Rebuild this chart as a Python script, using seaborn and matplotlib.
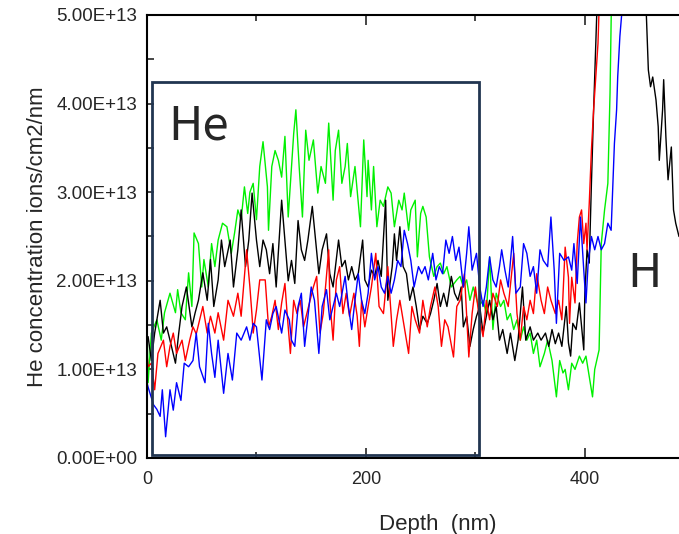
import numpy as np
import matplotlib
matplotlib.use("Agg")
import matplotlib.pyplot as plt
from matplotlib.patches import Rectangle
from matplotlib.ticker import FuncFormatter, MultipleLocator
import seaborn as sns

# Depth (nm) / He concentration (x1e13 ions/cm2/nm)
green_depth = [0, 1, 4, 9, 13, 16, 21, 26, 28, 31, 35, 38, 41, 43, 47, 50, 52, 56, 59, 62,
               65, 69, 73, 77, 80, 83, 86, 89, 92, 94, 97, 100, 103, 106, 110, 111, 114, 117, 120, 123,
               126, 129, 134, 136, 139, 142, 145, 148, 152, 156, 159, 163, 166, 170, 172, 175, 178, 181, 183, 186,
               190, 195, 198, 201, 202, 205, 207, 210, 213, 216, 220, 223, 226, 230, 233, 235, 239, 241, 245, 247,
               250, 252, 255, 258, 262, 265, 268, 271, 274, 278, 283, 286, 289, 292, 295, 298, 303, 307, 310, 313,
               316, 319, 323, 326, 329, 332, 335, 338, 341, 344, 347, 350, 353, 356, 359, 363, 366, 370, 374, 377,
               380, 382, 385, 388, 391, 395, 398, 401, 404, 407, 409, 413, 415, 418, 421, 423, 424, 428, 486]
green_conc = [1.6, 0.85, 1.41, 1.56, 1.33, 1.64, 1.86, 1.64, 1.9, 1.64, 1.56, 2.09, 1.71, 2.54, 2.42, 1.93, 2.24, 1.93, 2.42, 2.16,
              2.46, 2.65, 2.61, 2.31, 2.54, 2.8, 2.69, 3.06, 2.76, 3.0, 3.1, 2.69, 3.29, 3.57, 3.06, 2.57, 3.29, 3.47, 3.36, 3.17,
              3.63, 2.72, 3.66, 3.93, 3.29, 2.72, 3.7, 3.36, 3.59, 2.99, 3.29, 3.1, 3.78, 2.91, 3.47, 3.7, 3.1, 3.29, 3.55, 2.95,
              3.29, 2.61, 3.59, 2.95, 3.36, 2.8, 3.29, 2.61, 2.91, 2.84, 3.06, 2.99, 2.61, 2.91, 2.8, 2.99, 2.57, 2.8, 2.91, 2.27,
              2.76, 2.84, 2.72, 2.27, 2.05, 2.16, 2.2, 2.08, 2.16, 1.93, 2.01, 2.05, 1.93, 2.01, 1.78, 1.93, 1.71, 1.78, 1.63, 2.27,
              1.45, 1.86, 1.71, 1.78, 1.56, 1.63, 1.45, 1.56, 1.33, 1.48, 1.33, 1.41, 1.18, 1.33, 1.03, 1.18, 1.33, 1.1, 0.69, 1.1,
              0.96, 1.0, 0.77, 1.07, 1.0, 1.15, 1.07, 1.15, 0.92, 0.69, 1.0, 1.22, 2.42, 2.8, 3.1, 4.12, 4.98, 7.5, 9.0]

black_depth = [1, 4, 7, 12, 15, 18, 21, 26, 29, 32, 36, 41, 44, 47, 51, 55, 58, 61, 65, 68,
               71, 76, 79, 83, 86, 90, 93, 96, 100, 103, 106, 109, 112, 115, 118, 123, 126, 129, 132, 135,
               138, 141, 144, 147, 151, 154, 157, 160, 164, 167, 170, 175, 178, 181, 184, 187, 190, 193, 197, 199,
               202, 205, 208, 211, 214, 218, 220, 224, 226, 228, 231, 234, 237, 240, 243, 246, 249, 252, 256, 259,
               262, 265, 268, 271, 274, 278, 281, 284, 287, 289, 292, 295, 298, 301, 304, 307, 310, 313, 316, 319,
               322, 325, 329, 332, 336, 339, 343, 346, 350, 353, 357, 360, 364, 367, 370, 373, 376, 379, 383, 385,
               387, 389, 392, 395, 397, 399, 400, 402, 404, 406, 408, 410, 411, 415, 440, 452, 456, 458, 460, 462,
               465, 467, 468, 471, 472, 474, 476, 479, 481, 483, 486]
black_conc = [1.37, 1.1, 1.41, 1.78, 1.41, 1.48, 1.33, 1.07, 1.41, 1.71, 1.93, 1.48, 1.64, 1.78, 2.09, 1.78, 2.24, 1.71, 2.01, 2.46,
              2.16, 2.46, 1.93, 2.35, 2.8, 2.16, 2.46, 2.99, 2.46, 2.16, 2.46, 2.35, 2.08, 2.42, 1.93, 2.91, 2.46, 2.0, 2.23, 1.97,
              2.68, 2.35, 2.23, 2.46, 2.84, 2.46, 2.08, 2.35, 2.53, 2.08, 1.93, 2.46, 2.16, 2.23, 2.01, 2.16, 2.01, 2.08, 2.46, 2.01,
              1.93, 2.12, 2.05, 2.23, 2.05, 2.91, 1.78, 2.16, 2.53, 2.23, 2.61, 2.16, 2.08, 1.78, 1.93, 1.71, 1.45, 1.6, 1.52, 1.63,
              1.78, 1.97, 1.71, 1.86, 1.71, 2.05, 1.86, 1.78, 1.93, 1.48, 1.6, 1.26, 1.45, 1.6, 1.71, 1.41, 1.6, 1.78, 1.56, 1.71,
              1.33, 1.45, 1.18, 1.41, 1.1, 1.33, 1.93, 1.33, 1.48, 1.33, 1.41, 1.33, 1.41, 1.26, 1.45, 1.29, 1.41, 1.26, 1.71, 1.3,
              1.15, 1.52, 1.45, 1.75, 1.48, 1.22, 1.86, 2.35, 2.2, 3.1, 3.93, 4.68, 5.06, 7.5, 9.0, 7.0, 5.06, 4.38, 4.19, 4.3,
              4.04, 3.74, 3.36, 3.93, 4.27, 3.63, 3.14, 3.51, 2.8, 2.65, 2.5]

red_depth = [0, 1, 4, 7, 10, 15, 18, 21, 24, 27, 32, 35, 39, 42, 45, 51, 55, 58, 62, 65,
             70, 74, 79, 83, 86, 91, 94, 96, 97, 100, 103, 108, 111, 114, 117, 120, 123, 126, 128, 131,
             134, 137, 140, 143, 146, 149, 152, 155, 158, 161, 166, 167, 170, 173, 176, 179, 182, 185, 189, 192,
             194, 196, 199, 202, 205, 209, 212, 216, 220, 225, 228, 231, 235, 239, 242, 245, 249, 252, 256, 259,
             263, 266, 269, 272, 275, 280, 283, 286, 290, 294, 297, 300, 303, 307, 310, 313, 316, 320, 323, 326,
             330, 335, 338, 341, 344, 347, 350, 353, 356, 360, 363, 366, 369, 373, 376, 379, 382, 385, 386, 388,
             391, 393, 395, 397, 399, 401, 402, 404, 406, 408, 410, 412, 413, 420, 470, 486]
red_conc = [1.18, 1.03, 1.07, 0.77, 1.18, 1.33, 1.03, 1.26, 1.41, 1.18, 1.33, 1.1, 1.33, 1.48, 1.4, 1.71, 1.41, 1.6, 1.41, 1.64,
            1.33, 1.78, 1.6, 1.86, 1.6, 2.35, 1.93, 1.6, 1.41, 1.67, 2.01, 2.01, 1.48, 1.6, 1.78, 1.45, 1.75, 1.97, 1.63, 1.18,
            1.78, 1.63, 1.78, 1.48, 1.63, 1.78, 1.93, 2.05, 1.41, 1.63, 2.35, 1.78, 1.33, 2.01, 2.16, 1.63, 1.86, 1.6, 1.86, 1.6,
            1.26, 1.78, 1.48, 1.71, 1.93, 2.31, 1.71, 1.63, 2.16, 1.26, 1.56, 1.78, 1.48, 1.18, 1.71, 1.56, 1.41, 1.78, 1.48, 1.71,
            1.93, 1.71, 1.26, 1.56, 1.48, 1.14, 1.71, 1.78, 2.08, 1.14, 1.63, 1.93, 1.63, 1.37, 1.78, 1.56, 1.86, 1.71, 2.01, 1.86,
            1.71, 2.31, 1.63, 1.33, 1.71, 1.56, 1.78, 1.63, 2.08, 1.78, 1.63, 1.93, 1.78, 1.63, 1.78, 1.56, 2.38, 2.04, 1.52, 2.04,
            1.75, 2.42, 2.72, 2.8, 2.42, 2.65, 2.35, 2.87, 3.48, 3.93, 4.3, 4.68, 5.06, 8.0, 9.0, 5.05]

blue_depth = [0, 1, 6, 9, 12, 14, 17, 21, 24, 27, 31, 34, 38, 42, 45, 48, 53, 56, 59, 62,
              65, 70, 74, 78, 82, 86, 91, 94, 97, 100, 105, 109, 112, 115, 118, 123, 126, 130, 132, 135,
              138, 141, 144, 147, 150, 153, 157, 160, 164, 167, 170, 173, 176, 181, 184, 187, 190, 193, 196, 199,
              202, 205, 208, 211, 214, 217, 220, 223, 226, 229, 232, 235, 238, 241, 244, 248, 251, 254, 257, 261,
              264, 267, 270, 273, 276, 279, 282, 285, 289, 292, 294, 297, 301, 304, 307, 310, 313, 316, 319, 322,
              324, 327, 330, 334, 337, 341, 344, 347, 350, 353, 356, 359, 362, 366, 369, 372, 374, 377, 381, 385,
              388, 390, 393, 396, 399, 401, 403, 406, 409, 412, 415, 418, 421, 424, 427, 429, 430, 432, 434, 440, 486]
blue_conc = [0.85, 0.8, 0.6, 0.55, 0.47, 0.77, 0.24, 0.77, 0.54, 0.85, 0.65, 1.07, 1.03, 1.1, 1.41, 1.03, 0.85, 1.52, 1.18, 0.91,
             1.33, 0.73, 1.18, 0.88, 1.41, 1.33, 1.48, 1.33, 1.52, 1.48, 0.88, 1.56, 1.45, 1.63, 1.71, 1.41, 1.67, 1.56, 1.33, 1.26,
             1.71, 1.86, 1.26, 1.6, 1.93, 1.78, 1.18, 1.71, 1.9, 1.56, 1.71, 1.86, 1.71, 2.05, 1.71, 1.45, 1.78, 2.08, 1.78, 1.63,
             1.86, 2.31, 2.01, 2.16, 1.93, 1.86, 2.05, 1.86, 2.01, 2.23, 2.16, 2.57, 2.42, 2.23, 1.93, 2.16, 2.08, 2.16, 2.01, 2.31,
             2.01, 2.16, 2.08, 2.46, 2.31, 2.5, 2.23, 2.38, 1.93, 2.31, 2.61, 2.12, 2.31, 1.93, 1.71, 1.93, 2.27, 2.01, 1.93, 2.16,
             2.35, 2.12, 1.93, 2.5, 1.86, 1.93, 2.42, 2.31, 2.05, 2.16, 1.86, 2.35, 2.23, 2.16, 2.72, 2.12, 1.52, 2.31, 2.23, 2.27,
             2.12, 2.42, 1.97, 2.72, 2.12, 1.75, 2.2, 2.5, 2.35, 2.5, 2.35, 2.42, 2.65, 2.57, 3.55, 3.93, 4.3, 4.76, 5.06, 8.0, 9.0]

scale = 1e13

sns.set_style("ticks")
plt.rcParams['font.family'] = ['Liberation Sans', 'DejaVu Sans']

fig = plt.figure(figsize=(6.79, 5.34), dpi=100)
ax = fig.add_axes([147 / 679, 1 - 458 / 534, 532 / 679, 443 / 534])

series = [(green_depth, green_conc, '#00f000'),
          (black_depth, black_conc, 'black'),
          (red_depth, red_conc, '#ff0000'),
          (blue_depth, blue_conc, '#0000ff')]
for depth, conc, col in series:
    sns.lineplot(x=np.array(depth), y=np.array(conc) * scale, color=col, lw=1.0,
                 sort=False, estimator=None, ax=ax)

ax.set_xlim(0, 486)
ax.set_ylim(0, 5e13)

# box around the He region
ax.add_patch(Rectangle((4.6, 0.034e13), 298.6, 4.21e13, fill=False,
                       edgecolor='#213551', lw=2.0, zorder=5))
ax.text(19, 3.6e13, 'He', fontsize=34, family=['Noto Sans CJK KR', 'DejaVu Sans'],
        ha='left', va='baseline')
ax.text(439, 1.93e13, 'H', fontsize=34, family=['Noto Sans CJK KR', 'DejaVu Sans'],
        ha='left', va='baseline')

ax.xaxis.set_major_locator(MultipleLocator(200))
ax.xaxis.set_minor_locator(MultipleLocator(100))
ax.yaxis.set_major_locator(MultipleLocator(1e13))
ax.yaxis.set_minor_locator(MultipleLocator(0.5e13))
ax.yaxis.set_major_formatter(FuncFormatter(lambda v, p: f"{v:.2E}"))

ax.tick_params(axis='x', which='both', direction='in', top=True, bottom=True,
               labelsize=13, pad=9, width=1.2)
ax.tick_params(axis='x', which='major', length=7)
ax.tick_params(axis='x', which='minor', length=4)
ax.tick_params(axis='y', which='both', direction='in', left=True, right=False,
               labelsize=13.5, pad=7, width=1.2, length=5)

for side in ['left', 'top', 'bottom']:
    ax.spines[side].set_linewidth(1.5)
    ax.spines[side].set_color('black')
ax.spines['right'].set_visible(False)

ax.set_xlabel('Depth  (nm)', fontsize=16)
ax.set_ylabel('He concentration ions/cm2/nm', fontsize=16)
ax.xaxis.set_label_coords(0.547, -0.127)
ax.yaxis.set_label_coords(-0.186, 0.5)

fig.savefig('out.png', dpi=100)
